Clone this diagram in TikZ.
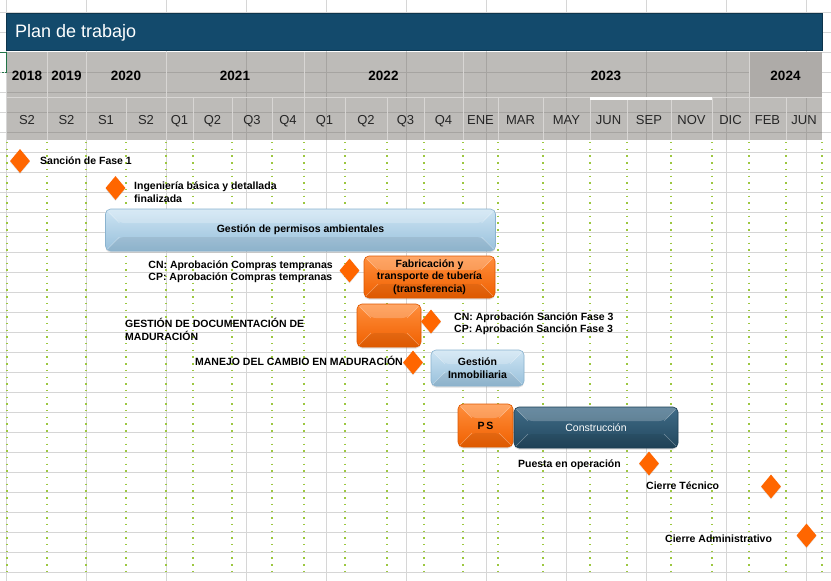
\documentclass[tikz,border=0pt]{standalone}
\usepackage{fontspec}
\setmainfont{Liberation Sans}
\usetikzlibrary{shapes.geometric, shadows}

\definecolor{titleblue}{HTML}{134A6C}
\definecolor{hdrgray}{HTML}{BDBBB8}
\definecolor{hdrdark}{HTML}{AEABA8}
\definecolor{hdrline}{HTML}{A6A4A1}
\definecolor{hdrsep}{HTML}{D8D6D4}
\definecolor{gridgray}{HTML}{D6D6D6}
\definecolor{dotgreen}{HTML}{9CC740}
\definecolor{xlgreen}{HTML}{217346}
\definecolor{msorange}{HTML}{FF6600}
\definecolor{orangetop}{HTML}{FF8E3C}
\definecolor{orangebot}{HTML}{F06000}
\definecolor{orangeedge}{HTML}{DD5800}
\definecolor{bluetop}{HTML}{CDE4F3}
\definecolor{bluebot}{HTML}{98C0DB}
\definecolor{blueedge}{HTML}{8AB3CF}
\definecolor{tealtop}{HTML}{406C88}
\definecolor{tealbot}{HTML}{22475D}
\definecolor{tealedge}{HTML}{1C3F54}

\begin{document}
\begin{tikzpicture}[x=1pt, y=-1pt,
    gridline/.style={draw=gridgray, line width=0.8pt},
    hdrgrid/.style={draw=hdrline, line width=0.8pt},
    hdrsepline/.style={draw=hdrsep, line width=0.8pt},
    greendots/.style={draw=dotgreen, line width=1.4pt, dash pattern=on 1.4pt off 5.3pt},
    titletext/.style={text=white, font=\fontsize{18}{20}\selectfont, inner sep=0pt},
    yeartext/.style={font=\fontsize{13.5}{15}\selectfont\bfseries, inner sep=0pt, anchor=base},
    subtext/.style={text=black!85, font=\fontsize{13}{15}\selectfont, inner sep=0pt, anchor=base},
    lbl/.style={font=\fontsize{10.5}{12.5}\selectfont\bfseries, inner sep=1.5pt, align=left},
    mstone/.style={diamond, fill=msorange, minimum width=20pt, minimum height=24pt, inner sep=0pt,
        drop shadow={shadow xshift=0pt, shadow yshift=-1pt, opacity=0.2}},
    bevel/.style={path picture={
        \path (path picture bounding box.north west) coordinate (bv1)
              (path picture bounding box.north east) coordinate (bv2)
              (path picture bounding box.south east) coordinate (bv3)
              (path picture bounding box.south west) coordinate (bv4);
        \path (bv1) ++(14pt,-14pt) coordinate (bw1)
              (bv2) ++(-14pt,-14pt) coordinate (bw2)
              (bv3) ++(-14pt,14pt) coordinate (bw3)
              (bv4) ++(14pt,14pt) coordinate (bw4);
        \fill[white, opacity=0.22] (bv1) -- (bv2) -- (bw2) -- (bw1) -- cycle;
        \fill[black, opacity=0.07] (bv4) -- (bv3) -- (bw3) -- (bw4) -- cycle;
        \draw[white, opacity=0.35, line width=0.5pt] (bv1) -- (bw1) (bv2) -- (bw2) (bv3) -- (bw3) (bv4) -- (bw4);
    }},
    bar/.style={rounded corners=5pt, inner sep=0pt, align=center, line width=0.6pt, bevel,
        font=\fontsize{10.5}{12.5}\selectfont\bfseries,
        drop shadow={shadow xshift=0pt, shadow yshift=-1.5pt, opacity=0.25}},
    orangebar/.style={bar, draw=orangeedge, top color=orangetop, bottom color=orangebot},
    bluebar/.style={bar, draw=blueedge, top color=bluetop, bottom color=bluebot},
    tealbar/.style={bar, draw=tealedge, top color=tealtop, bottom color=tealbot, text=white,
        font=\fontsize{10.5}{12.5}\selectfont}]

    \useasboundingbox (0,0) rectangle (831,581);
    \fill[white] (0,0) rectangle (831,581);

    \foreach \x in {6,86,...,806} \draw[gridline] (\x,0) -- (\x,581);
    \foreach \y in {12,32,...,572} \draw[gridline] (0,\y) -- (831,\y);

    \draw[xlgreen, line width=1.6pt] (0,52.5) -- (7,52.5) -- (7,72);
    \draw[xlgreen, line width=1.6pt, dash pattern=on 2pt off 1.5pt] (7,72.5) -- (0,72.5);

    \fill[titleblue, draw=titleblue!70!black, line width=0.6pt] (6,13) rectangle (822,50);
    \node[titletext, anchor=base west] (title) at (15,37.5) {Plan de trabajo};

    \fill[hdrgray] (7,52) rectangle (822,140);
    \foreach \x in {86,166,...,806} \draw[hdrgrid] (\x,52) -- (\x,140);
    \foreach \y in {72,92,112,132} \draw[hdrgrid] (7,\y) -- (822,\y);
    \fill[hdrdark] (749,52) rectangle (822,97);
    \foreach \x in {47,86,166,304,463,749} \draw[hdrsepline] (\x,52) -- (\x,97.5);
    \foreach \x in {47,86,126,166,193,232,272,304,345,387,424,463,498,543,590,627,671,712,749,786}
        \draw[hdrsepline] (\x,97.5) -- (\x,140);
    \draw[hdrsepline] (7,97.5) -- (822,97.5);
    \draw[white, line width=2.6pt] (590,98.5) -- (712,98.5);

    \foreach \x/\yr in {27/2018, 66.5/2019, 126/2020, 235/2021, 383.5/2022, 606/2023, 785.5/2024}
        \node[yeartext] (y\yr) at (\x,80.5) {\yr};
    \foreach \x/\lab [count=\i] in {27/S2, 66.5/S2, 106/S1, 146/S2, 179.5/Q1, 212.5/Q2, 252/Q3,
        288/Q4, 324.5/Q1, 366/Q2, 405.5/Q3, 443.5/Q4, 480.5/ENE, 520.5/MAR, 566.5/MAY,
        608.5/JUN, 649/SEP, 691.5/NOV, 730.5/DIC, 767.5/FEB, 804/JUN}
        \node[subtext] (s\i) at (\x,124.5) {\lab};

    \foreach \x in {7,47,86,126,166,193,232,272,304,345,387,424,463,498,543,590,627,671,712,749,786,822}
        \draw[greendots] (\x,142) -- (\x,571);

    \node[bluebar, minimum width=390pt, minimum height=42pt] (permisos) at (300.5,230) {Gestión de permisos ambientales};
    \node[orangebar, minimum width=131pt, minimum height=42pt] (tuberia) at (429.5,277) {Fabricación y\\transporte de tubería\\(transferencia)};
    \node[orangebar, minimum width=64pt, minimum height=43pt] (docum) at (389,325.5) {};
    \node[bluebar, minimum width=93pt, minimum height=36pt] (inmob) at (477.5,368) {Gestión\\Inmobiliaria};
    \node[orangebar, minimum width=55pt, minimum height=43pt] (ps) at (485.5,425.5) {P\,S};
    \node[tealbar, minimum width=164pt, minimum height=41pt] (constr) at (596,427.5) {Construcción};

    \node[mstone] (m1) at (20,161) {};
    \node[mstone] (m2) at (115.5,188) {};
    \node[mstone] (m3) at (349.5,270.5) {};
    \node[mstone] (m4) at (431,321.5) {};
    \node[mstone] (m5) at (413,362.5) {};
    \node[mstone] (m6) at (649,463.5) {};
    \node[mstone] (m7) at (771,486.5) {};
    \node[mstone] (m8) at (806.5,535.5) {};

    \node[lbl, anchor=mid west] (t1) at (38.5,162) {Sanción de Fase 1};
    \node[lbl, anchor=west] (t2) at (132.5,192) {Ingeniería básica y detallada\\finalizada};
    \node[lbl, anchor=east] (t3) at (334.5,271.5) {CN: Aprobación Compras tempranas\\CP: Aprobación Compras tempranas};
    \node[lbl, anchor=west] (t4) at (123.5,329.5) {GESTIÓN DE DOCUMENTACIÓN DE\\MADURACIÓN};
    \node[lbl, anchor=west] (t5) at (452.5,323.5) {CN: Aprobación Sanción Fase 3\\CP: Aprobación Sanción Fase 3};
    \node[lbl, anchor=mid east] (t6) at (404.5,363) {MANEJO DEL CAMBIO EN MADURACIÓN};
    \node[lbl, anchor=mid east] (t7) at (622.5,465) {Puesta en operación};
    \node[lbl, anchor=mid west] (t8) at (644.5,487) {Cierre Técnico};
    \node[lbl, anchor=mid west] (t9) at (663.5,540) {Cierre Administrativo};
\end{tikzpicture}
\end{document}
